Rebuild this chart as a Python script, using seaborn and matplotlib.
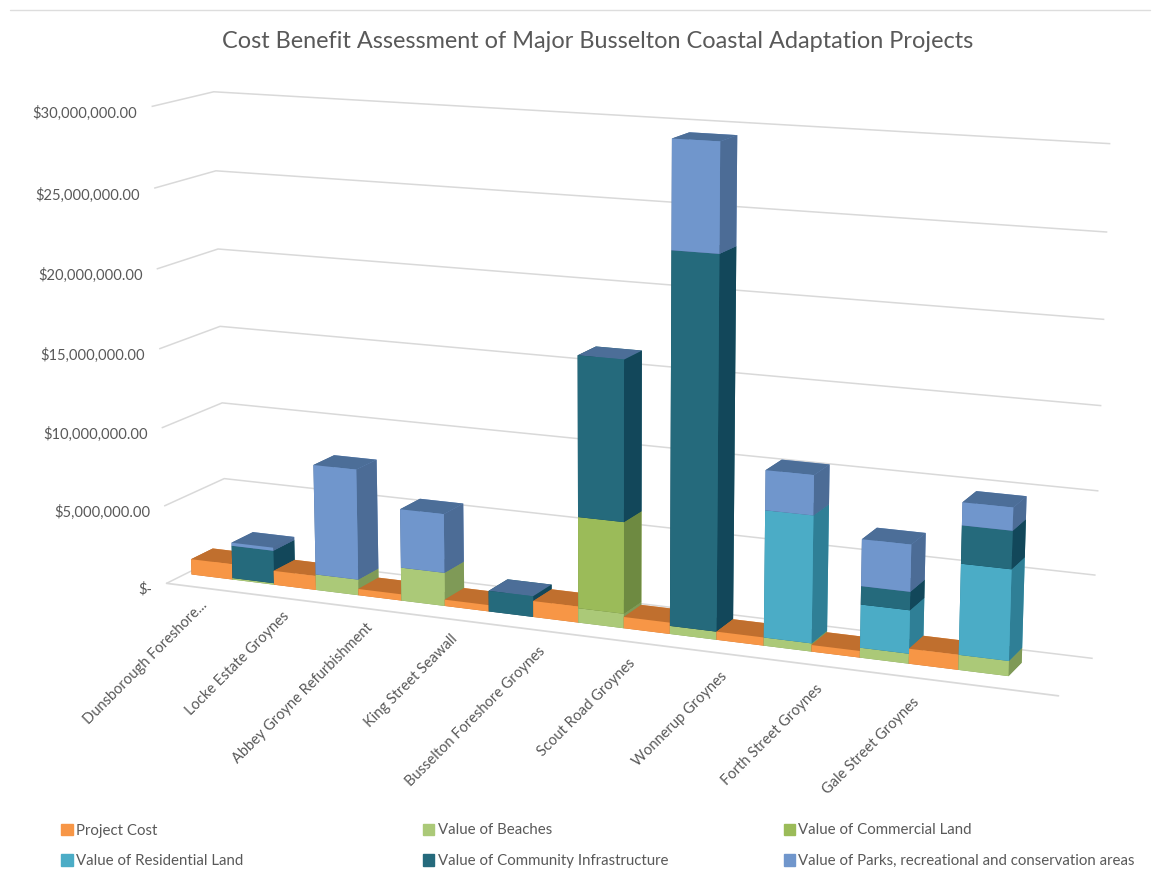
import matplotlib
matplotlib.use("Agg")
import matplotlib.pyplot as plt
from matplotlib.lines import Line2D
from matplotlib.patches import Patch
from matplotlib.ticker import FuncFormatter
from mpl_toolkits.mplot3d import proj3d
import numpy as np
import seaborn as sns

categories = ["Dunsborough Foreshore...", "Locke Estate Groynes", "Abbey Groyne Refurbishment",
              "King Street Seawall", "Busselton Foreshore Groynes", "Scout Road Groynes",
              "Wonnerup Groynes", "Forth Street Groynes", "Gale Street Groynes"]
project_cost = [1.0e6, 0.9e6, 0.4e6, 0.4e6, 1.0e6, 0.7e6, 0.5e6, 0.4e6, 0.9e6]
beaches      = [0.1e6, 1.0e6, 2.1e6, 0.0e6, 0.9e6, 0.5e6, 0.5e6, 0.6e6, 0.9e6]
commercial   = [0, 0, 0, 0, 5.65e6, 0, 0, 0, 0]
residential  = [0, 0, 0, 0, 0, 0, 7.7e6, 2.6e6, 5.4e6]
community    = [2.1e6, 0, 0, 1.3e6, 9.85e6, 22.6e6, 0, 1.1e6, 2.25e6]
parks        = [0.2e6, 7.0e6, 3.7e6, 0, 0, 6.5e6, 2.4e6, 2.8e6, 1.35e6]
ticks = [0, 5e6, 10e6, 15e6, 20e6, 25e6, 30e6]

stack_names = ["Value of Beaches", "Value of Commercial Land", "Value of Residential Land",
               "Value of Community Infrastructure", "Value of Parks, recreational and conservation areas"]
stack_values = [beaches, commercial, residential, community, parks]
front = dict(zip(["Project Cost"] + stack_names,
                 sns.color_palette(["#F79646", "#ABC978", "#9BBB59", "#4BACC6", "#256A7C", "#7096CC"])))
side = dict(zip(front, sns.color_palette(["#C06F2E", "#7F9A57", "#6E8A41", "#2F7F96", "#12475A", "#4C6C96"])))
top = dict(zip(front, sns.color_palette(["#C06F2E", "#7F9A57", "#6E8A41", "#2F7F96", "#4C6E98", "#4C6E98"])))

sns.set_theme(style="white")
plt.rcParams["font.family"] = ["Lato", "DejaVu Sans"]
GREY = "#595959"
GRID = "#D9D9D9"

fig = plt.figure(figsize=(11.58, 8.77), dpi=100, facecolor="white")
ax = fig.add_axes([-0.0035, -0.004, 1.04, 1.12], projection="3d", computed_zorder=False)
ax.set_proj_type("persp", focal_length=0.6)
ax.view_init(elev=12.5, azim=-67)
box = (934, 122, 489)
ax.set_box_aspect(box, zoom=1.085 * np.linalg.norm(box) / 1059)

col = 0.5
depth = 0.365
y0 = 0.315


def draw(x, bottom, h, name):
    if h <= 0:
        return
    # faces: -Z, +Z, -Y, +Y, -X, +X
    colors = [side[name], top[name], front[name], front[name], side[name], side[name]]
    ax.bar3d(x, y0, bottom, col, depth, h, color=colors, shade=False, edgecolor="none", linewidth=0)


for i in range(len(categories)):
    draw(i, 0, project_cost[i], "Project Cost")
    bottom = 0
    for name, vals in zip(stack_names, stack_values):
        draw(i + col, bottom, vals[i], name)
        bottom += vals[i]

ax.set_xlim(-0.07, 9.6)
ax.set_ylim(0, 1)
ax.set_zlim(0, 30e6)
ax.set_xticks([])
ax.set_yticks([])
ax.set_zticks(ticks)
ax.zaxis.set_ticks_position("lower")
ax.zaxis.set_major_formatter(FuncFormatter(lambda v, _: "$-" if v == 0 else f"\\${v:,.2f}"))
ax.tick_params(axis="z", color=(1, 1, 1, 0), labelcolor=GREY, labelsize=10.6, pad=-2)
plt.setp(ax.zaxis.get_majorticklabels(), ha="right", va="top")
for a in (ax.xaxis, ax.yaxis, ax.zaxis):
    a.set_pane_color((1, 1, 1, 0))
    a._axinfo["grid"].update(color=GRID, linewidth=1.1)
ax.xaxis.line.set_color(GRID)
ax.yaxis.line.set_color((1, 1, 1, 0))
ax.zaxis.line.set_color((1, 1, 1, 0))
ax.xaxis.pane.set_edgecolor((1, 1, 1, 0))
ax.yaxis.pane.set_edgecolor((1, 1, 1, 0))
ax.zaxis.pane.set_edgecolor((1, 1, 1, 0))

proj = ax.get_proj()
for i, label in enumerate(categories):
    px, py, _ = proj3d.proj_transform(i * 0.975 + col + 0.03, -0.26 - 0.02 * i, 0, proj)
    ax.text2D(px, py, label, transform=ax.transData, rotation=45, ha="right", va="top",
              rotation_mode="anchor", color=GREY, fontsize=10.5, zorder=20)

fig.text(598 / 1158, 1 - 41 / 877, "Cost Benefit Assessment of Major Busselton Coastal Adaptation Projects",
         ha="center", va="center", fontsize=16.9, color=GREY)
fig.add_artist(Line2D([10 / 1158, 1150 / 1158], [1 - 10 / 877] * 2, color="#DDDDDD", lw=1))

columns = [(51, ["Project Cost", "Value of Residential Land"]),
           (412, ["Value of Beaches", "Value of Community Infrastructure"]),
           (773, ["Value of Commercial Land", "Value of Parks, recreational and conservation areas"])]
for x, names in columns:
    fig.legend(handles=[Patch(color=front[n], label=n) for n in names], loc="upper left",
               bbox_to_anchor=(x / 1158, 1 - 813 / 877), frameon=False, fontsize=10.8, labelcolor=GREY,
               handlelength=0.75, handleheight=0.8, handletextpad=0.25, labelspacing=1.1, borderpad=0.2)

fig.savefig("out.png", dpi=100)
